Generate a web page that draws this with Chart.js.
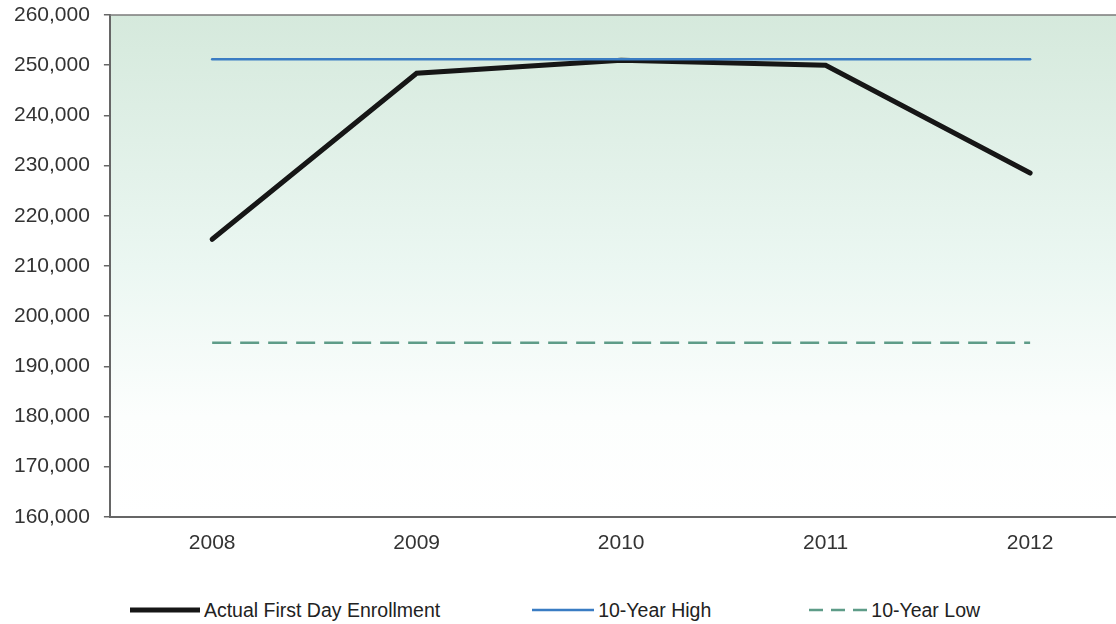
<!DOCTYPE html>
<html>
<head>
<meta charset="utf-8">
<script src="https://cdn.jsdelivr.net/npm/chart.js@4"></script>
<style>
  html, body { margin: 0; padding: 0; background: #fff; overflow: hidden; }
  .page { width: 1116px; height: 624px; position: relative; }
  .chart-container { width: 1116px; height: 596px; position: relative; }
  .legend {
    display: flex;
    justify-content: center;
    align-items: center;
    height: 28px;
    padding-right: 6px;
    font-family: "Liberation Sans", Arial, sans-serif;
    font-size: 19.5px;
    color: #222;
  }
  .legend .item { display: flex; align-items: center; margin: 0 46px; }
  .legend .item:last-child { margin-left: 52px; }
  .legend svg { margin-right: 4px; }
</style>
</head>
<body>
<div class="page">
  <div class="chart-container">
    <canvas id="chart"></canvas>
  </div>
  <div class="legend" id="legend"></div>
</div>
<script>
'use strict';

const years = [2008, 2009, 2010, 2011, 2012];
const actualEnrollment = [215300, 248400, 251000, 250000, 228500];
const tenYearHigh = [251200, 251200, 251200, 251200, 251200];
const tenYearLow = [194700, 194700, 194700, 194700, 194700];
const yTicks = [160000, 170000, 180000, 190000, 200000, 210000, 220000, 230000, 240000, 250000, 260000];

const seriesStyle = [
  { label: 'Actual First Day Enrollment', data: actualEnrollment, color: '#161616', width: 5, dash: [], sample: 70, order: 1 },
  { label: '10-Year High', data: tenYearHigh, color: '#3a7cc3', width: 2.5, dash: [], sample: 62, order: 0 },
  { label: '10-Year Low', data: tenYearLow, color: '#5e9c88', width: 2.5, dash: [19, 9], sample: 58, order: 2 }
];

const toPoints = (values) => years.map((year, i) => ({ x: year, y: values[i] }));

// soft green wash behind the plot, fading to white, plus the frame on top
const plotBackground = {
  id: 'plotBackground',
  beforeDraw(chart) {
    const { ctx, chartArea: a } = chart;
    const g = ctx.createLinearGradient(0, a.top, 0, a.bottom);
    g.addColorStop(0, '#d5e9dc');
    g.addColorStop(0.5, '#ebf7f2');
    g.addColorStop(0.8, '#fcfefd');
    g.addColorStop(1, '#ffffff');
    ctx.save();
    ctx.fillStyle = g;
    ctx.fillRect(a.left, a.top, a.right - a.left, a.bottom - a.top);
    ctx.restore();
  },
  afterDraw(chart) {
    const { ctx, chartArea: a } = chart;
    ctx.save();
    ctx.strokeStyle = '#7a7a7a';
    ctx.lineWidth = 1.5;
    ctx.beginPath();
    ctx.moveTo(a.left, a.top);
    ctx.lineTo(a.right, a.top);
    ctx.stroke();
    ctx.restore();
  }
};

const tickFont = { family: '"Liberation Sans", Arial, sans-serif', size: 21 };

const chart = new Chart(document.getElementById('chart').getContext('2d'), {
  type: 'line',
  data: {
    datasets: seriesStyle.map((s) => ({
      label: s.label,
      data: toPoints(s.data),
      borderColor: s.color,
      borderWidth: s.width,
      borderDash: s.dash,
      borderCapStyle: s.dash.length ? 'butt' : 'round',
      pointRadius: 0,
      tension: 0,
      fill: false,
      order: s.order
    }))
  },
  options: {
    responsive: true,
    maintainAspectRatio: false,
    animation: false,
    layout: { padding: { left: 0, top: 15, right: 0, bottom: 26 } },
    plugins: {
      legend: { display: false },
      tooltip: { enabled: false }
    },
    scales: {
      x: {
        type: 'linear',
        min: 2007.5,
        max: 2012.42,
        afterBuildTicks: (scale) => {
          scale.ticks = years.map((v) => ({ value: v }));
        },
        grid: { display: false, drawTicks: false },
        border: { display: true, color: '#666', width: 2 },
        ticks: {
          padding: 14,
          color: '#333',
          font: tickFont,
          autoSkip: false,
          maxRotation: 0,
          callback: (v) => String(v)
        }
      },
      y: {
        min: 160000,
        max: 260000,
        afterBuildTicks: (scale) => {
          scale.ticks = yTicks.map((v) => ({ value: v }));
        },
        // the top/bottom labels may hang over the plot edges, like the original
        afterFit: (scale) => {
          scale.paddingTop = 0;
          scale.paddingBottom = 0;
        },
        grid: { drawOnChartArea: false, drawTicks: true, tickLength: 6, color: '#666', lineWidth: 1.5 },
        border: { display: true, color: '#666', width: 2 },
        ticks: {
          padding: 14,
          color: '#333',
          font: tickFont,
          callback: (v) => v.toLocaleString('en-US')
        }
      }
    }
  },
  plugins: [plotBackground]
});

// legend as plain html, drawn from the same series list
const legend = document.getElementById('legend');
seriesStyle.forEach((s) => {
  const item = document.createElement('div');
  item.className = 'item';
  const dash = s.dash.length ? 'stroke-dasharray="14 8"' : '';
  item.innerHTML =
    '<svg width="' + s.sample + '" height="10"><line x1="0" y1="5" x2="' + s.sample + '" y2="5" stroke="' +
    s.color + '" stroke-width="' + s.width + '" ' + dash + '/></svg><span>' + s.label + '</span>';
  legend.appendChild(item);
});
</script>
</body>
</html>
